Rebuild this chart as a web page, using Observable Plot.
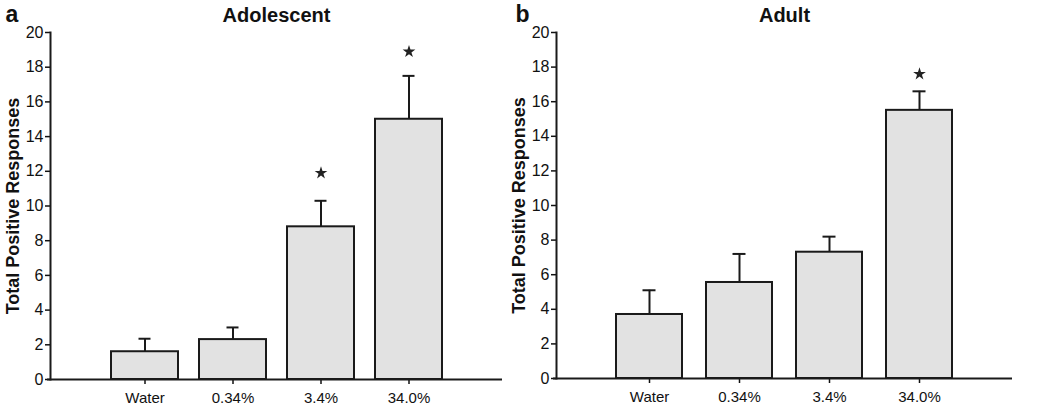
<!DOCTYPE html>
<html>
<head>
<meta charset="utf-8">
<script src="https://cdn.jsdelivr.net/npm/d3@7"></script>
<script src="https://cdn.jsdelivr.net/npm/@observablehq/plot@0.6"></script>
<style>
  body { margin: 0; background: #fff; }
  #wrap { display: flex; width: 1050px; height: 408px; font-family: "Liberation Sans", Arial, Helvetica, sans-serif; }
  svg { font-family: "Liberation Sans", Arial, Helvetica, sans-serif; }
</style>
</head>
<body>
<div id="wrap"></div>
<script>
const categories = ["Water", "0.34%", "3.4%", "34.0%"];
const yTicks = [0, 2, 4, 6, 8, 10, 12, 14, 16, 18, 20];
const yLabel = "Total Positive Responses";

// Panel a: Adolescent
const adolescentMean = [1.6, 2.3, 8.8, 15.0];
const adolescentErr  = [0.75, 0.7, 1.5, 2.5];
const adolescentStar = [null, null, 11.9, 18.9];

// Panel b: Adult
const adultMean = [3.7, 5.55, 7.3, 15.5];
const adultErr  = [1.4, 1.65, 0.9, 1.1];
const adultStar = [null, null, null, 17.6];

function rows(mean, err, star) {
  return categories.map((c, i) => ({cat: c, mean: mean[i], top: mean[i] + err[i], star: star[i]}));
}

function panel({letter, title, data, width, ml, mr, mt, mb, pi, po, capInset}) {
  const stars = data.filter(d => d.star != null);
  return Plot.plot({
    width, height: 408,
    marginLeft: ml, marginRight: mr, marginTop: mt, marginBottom: mb,
    style: {fontFamily: "Liberation Sans, Arial, Helvetica, sans-serif", color: "#111", background: "#fff"},
    x: {domain: categories, paddingInner: pi, paddingOuter: po, label: null},
    y: {domain: [0, 20], label: null},
    marks: [
      Plot.ruleX(data, {x: "cat", y1: "mean", y2: "top", stroke: "#1a1a1a", strokeWidth: 2}),
      Plot.tickY(data, {x: "cat", y: "top", stroke: "#1a1a1a", strokeWidth: 2, insetLeft: capInset, insetRight: capInset}),
      Plot.barY(data, {x: "cat", y: "mean", fill: "#e2e2e2", stroke: "#1a1a1a", strokeWidth: 2}),
      Plot.dot(stars, {x: "cat", y: "star", symbol: "star", r: 4, fill: "#222", stroke: "none"}),
      Plot.axisY({ticks: yTicks, tickSize: 5, tickPadding: 2, fontSize: 16, tickFormat: d3.format("d"), label: null, strokeWidth: 1.5, fill: "#111"}),
      Plot.axisX({tickSize: 5, tickPadding: 8, fontSize: 15, label: null, strokeWidth: 1.5, fill: "#111"}),
      Plot.frame({anchor: "left", stroke: "#1a1a1a", strokeWidth: 2}),
      Plot.ruleY([0], {stroke: "#1a1a1a", strokeWidth: 2, insetLeft: -3}),
      Plot.text([yLabel], {frameAnchor: "left", dx: -37, rotate: -90, textAnchor: "middle", lineAnchor: "middle", fontSize: 18, fontWeight: "bold", fill: "#111"}),
      Plot.text([title], {frameAnchor: "top", dy: -17, lineAnchor: "middle", fontSize: 20, fontWeight: "bold", fill: "#111"}),
      Plot.text([letter], {frameAnchor: "top-left", dx: -(ml - 5), dy: -18, textAnchor: "start", lineAnchor: "middle", fontSize: 23, fontWeight: "bold", fill: "#111"})
    ]
  });
}

const wrap = document.getElementById("wrap");
wrap.appendChild(panel({
  letter: "a", title: "Adolescent", data: rows(adolescentMean, adolescentErr, adolescentStar),
  width: 510, ml: 50, mr: 8, mt: 32, mb: 29, pi: 0.24, po: 0.68, capInset: 27.5
}));
wrap.appendChild(panel({
  letter: "b", title: "Adult", data: rows(adultMean, adultErr, adultStar),
  width: 540, ml: 46, mr: 38, mt: 32, mb: 30, pi: 0.27, po: 0.65, capInset: 26.5
}));
</script>
</body>
</html>
